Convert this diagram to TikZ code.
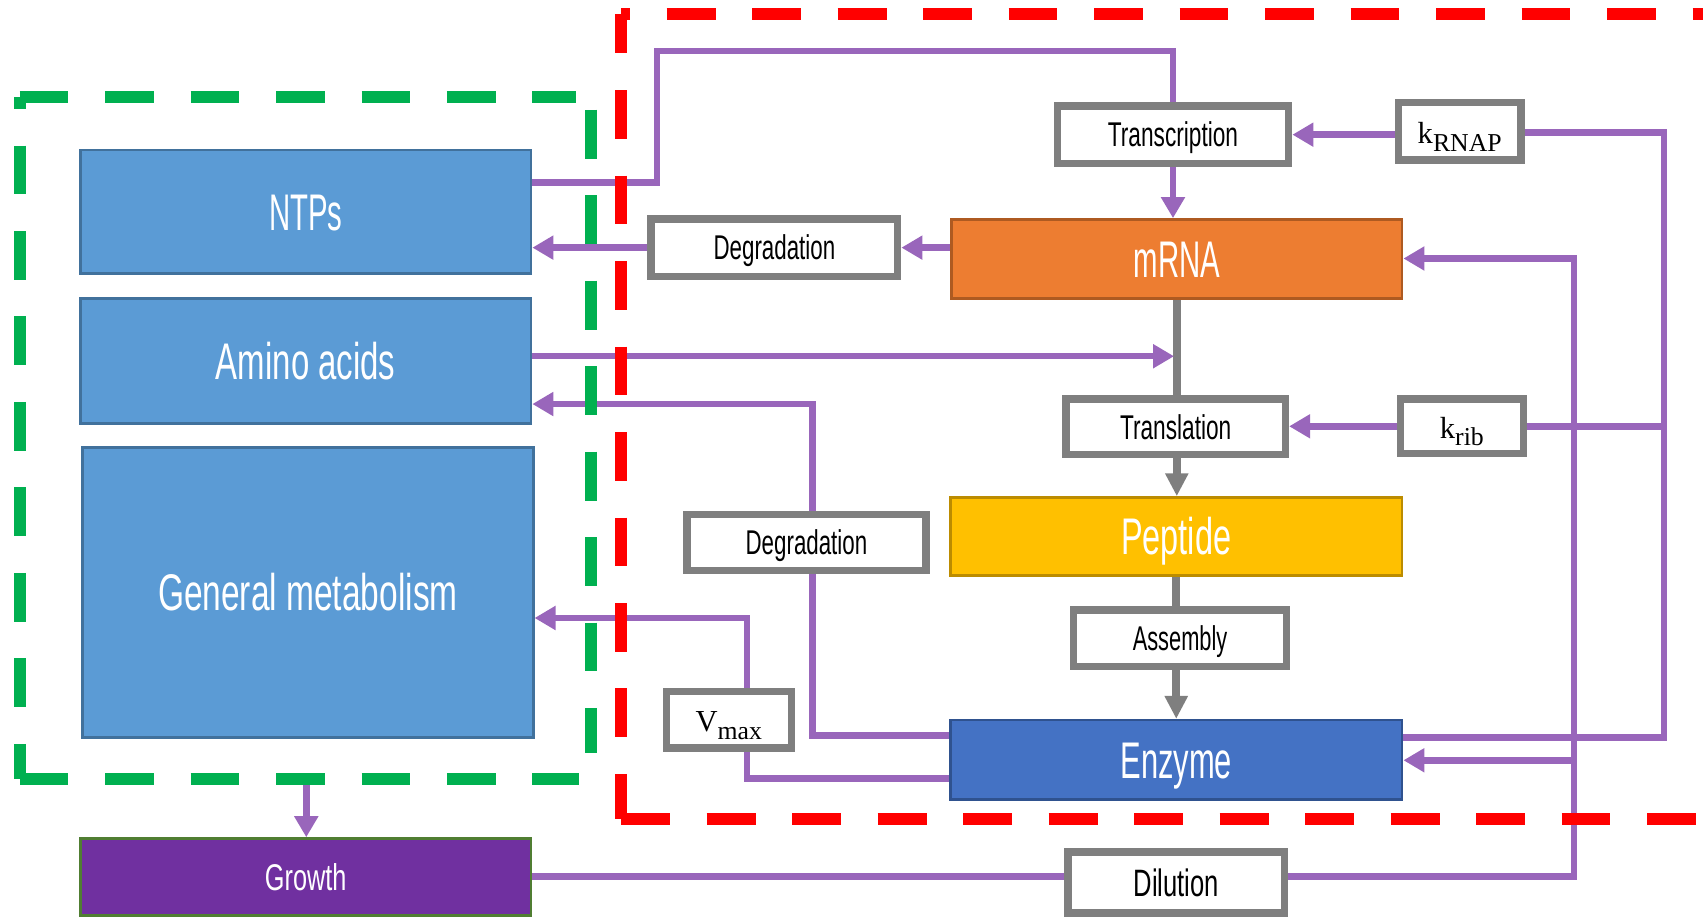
\documentclass[tikz,border=0pt]{standalone}
\usepackage[no-math]{fontspec}
\setmainfont{Liberation Sans}
\newfontfamily\serf{Liberation Serif}
\usepackage{graphicx}
\usetikzlibrary{arrows.meta}
\definecolor{purp}{HTML}{9966BB}
\definecolor{gry}{HTML}{7F7F7F}
\definecolor{bfill}{HTML}{5B9BD5}
\definecolor{bbord}{HTML}{41719C}
\definecolor{orng}{HTML}{ED7D31}
\definecolor{orngb}{HTML}{AE5A21}
\definecolor{yel}{HTML}{FFC000}
\definecolor{yelb}{HTML}{BC8C00}
\definecolor{enzc}{HTML}{4472C4}
\definecolor{enzb}{HTML}{2F528F}
\definecolor{growthc}{HTML}{7030A0}
\definecolor{growthb}{HTML}{507E32}
\definecolor{grn}{HTML}{00B050}
\definecolor{rd}{HTML}{FF0000}
\newcommand\cnd[2][0.62]{\scalebox{#1}[1]{#2}}
\newcommand\msub[2]{{\serf\fontsize{16}{18}\selectfont #1\raisebox{-4pt}{\fontsize{13.5}{15}\selectfont #2}}}
\tikzset{
  pbox/.style={draw=bbord, fill=bfill, line width=1.3pt, text=white, inner sep=0pt,
    font=\fontsize{27}{30}\selectfont, text height=19.3pt, text depth=0pt},
  gbox/.style={draw=gry, fill=white, line width=3.9pt, inner sep=0pt, text=black,
    font=\fontsize{18}{20}\selectfont, text height=12.9pt, text depth=0pt},
  mbox/.style={gbox, text height=12.6pt, text depth=0pt},
  sz/.style 2 args={minimum width=#1*0.02cm, minimum height=#2*0.02cm},
  pl/.style={draw=purp, line width=3.4pt},
  gl/.style={draw=gry, line width=4pt},
  parr/.style={-{Triangle[length=11pt,width=12pt]}},
  garr/.style={-{Triangle[length=12pt,width=11.5pt]}},
  dsh/.style={line width=6.3pt, dash pattern=on 25.6pt off 19.2pt},
}
\begin{document}
\begin{tikzpicture}[x=0.02cm, y=-0.02cm]
\useasboundingbox (0,0) rectangle (1568,845);

% ---- coloured boxes
\node[pbox, sz={415}{114}] (ntp) at (281.5,195) {\cnd[0.57]{NTPs}};
\node[pbox, sz={415}{115}] (amino) at (281.5,332.5) {\cnd[0.64]{Amino acids}};
\node[pbox, sz={415}{267}] (genmet) at (283.5,545.5) {\cnd[0.65]{General metabolism}};
\node[pbox, fill=growthc, draw=growthb, sz={415}{71}, font=\fontsize{19.5}{22}\selectfont, text height=14pt] (growth) at (281.5,807.5) {\cnd[0.68]{Growth}};
\node[pbox, fill=orng, draw=orngb, sz={415}{73}] (mrna) at (1083.5,238.5) {\cnd[0.57]{mRNA}};
\node[pbox, fill=yel, draw=yelb, sz={416}{72}] (pep) at (1083,494) {\cnd[0.63]{Peptide}};
\node[pbox, fill=enzc, draw=enzb, sz={416}{73}] (enz) at (1083,699.5) {\cnd[0.6]{Enzyme}};

% ---- grey process boxes
\node[gbox, sz={213}{53}] (trans) at (1080,124) {\cnd[0.66]{Transcription}};
\node[mbox, sz={113}{53}] (krnap) at (1344,121) {\msub{k}{RNAP}};
\node[gbox, sz={227}{53}] (deg1) at (713,228) {\cnd[0.65]{Degradation}};
\node[gbox, sz={202}{51}] (transl) at (1082.5,393) {\cnd[0.66]{Translation}};
\node[mbox, sz={113}{50}] (krib) at (1346,392.5) {\msub{k}{rib}};
\node[gbox, sz={220}{52}] (deg2) at (742.5,499.5) {\cnd[0.65]{Degradation}};
\node[mbox, sz={115}{52}] (vmax) at (671,662.5) {\msub{V}{max}};
\node[gbox, sz={196}{52}] (asm) at (1086.5,587.5) {\cnd[0.635]{Assembly}};
\node[gbox, sz={199}{56}, font=\fontsize{20}{22}\selectfont, text height=14.3pt] (dil) at (1083,812.5) {\cnd[0.67]{Dilution}};

% ---- helper coordinates
\coordinate (c1) at (605,168);
\coordinate (c2) at (605,47);
\coordinate (aa) at (1081,328);
\coordinate (r1) at (1532,122);
\coordinate (r2) at (1532,679);
\coordinate (d1) at (1449,807);
\coordinate (d2) at (1449,238);
\coordinate (d3) at (1449,700);
\coordinate (gb) at (282,717);
\coordinate (e1) at (748,677);
\coordinate (e2) at (748,372);
\coordinate (v1) at (688,717);
\coordinate (v2) at (688,569);

% ---- purple connectors
\draw[pl] (ntp.east |- c1) -- (c1) -- (c2) -| (trans.north);
\draw[pl,parr] (trans.south) -- (trans.south |- mrna.north);
\draw[pl,parr] (krnap.west |- trans.east) -- (trans.east);
\draw[pl,parr] (mrna.west |- deg1.east) -- (deg1.east);
\draw[pl,parr] (deg1.west) -- (ntp.east |- deg1.west);
\draw[pl,parr] (krib.west) -- (transl.east |- krib.west);
\draw[pl] (krnap.east |- r1) -- (r1) -- (r2) -- (enz.east |- r2);
\draw[pl] (krib.east) -- (krib.east -| r1);
\draw[pl,parr] (dil.east |- d1) -- (d1) -- (d2) -- (mrna.east |- d2);
\draw[pl,parr] (d3) -- (enz.east |- d3);
\draw[pl] (growth.east |- d1) -- (dil.west |- d1);
\draw[pl,parr] (gb) -- (gb |- growth.north);
\draw[pl] (enz.west |- e1) -- (e1) -- (e1 |- deg2.south);
\draw[pl,parr] (e2 |- deg2.north) -- (e2) -- (amino.east |- e2);
\draw[pl] (enz.west |- v1) -- (v1) -- (v1 |- vmax.south);
\draw[pl,parr] (v2 |- vmax.north) -- (v2) -- (genmet.east |- v2);

% ---- grey connectors
\draw[gl] (mrna.south) -- (mrna.south |- transl.north);
\draw[pl,parr] (amino.east |- aa) -- (aa);
\draw[gl,garr] (transl.south -| mrna.south) -- (mrna.south |- pep.north);
\draw[gl] (pep.south) -- (pep.south |- asm.north);
\draw[gl,garr] (asm.south -| pep.south) -- (enz.north);

% ---- dashed compartments
\draw[dsh, draw=grn] (18,89) -- (530,89);
\draw[dsh, draw=grn, dash phase=19.2pt] (18,89) -- (18,717);
\draw[dsh, draw=grn] (18,717) -- (533,717);
\draw[dsh, draw=grn] (544,101) -- (544,693);
\draw[dsh, draw=rd, dash phase=21pt] (572,13) -- (1620,13);
\draw[dsh, draw=rd, dash phase=5pt] (572,13) -- (572,754);
\draw[dsh, draw=rd] (572,754) -- (1620,754);
\end{tikzpicture}
\end{document}
